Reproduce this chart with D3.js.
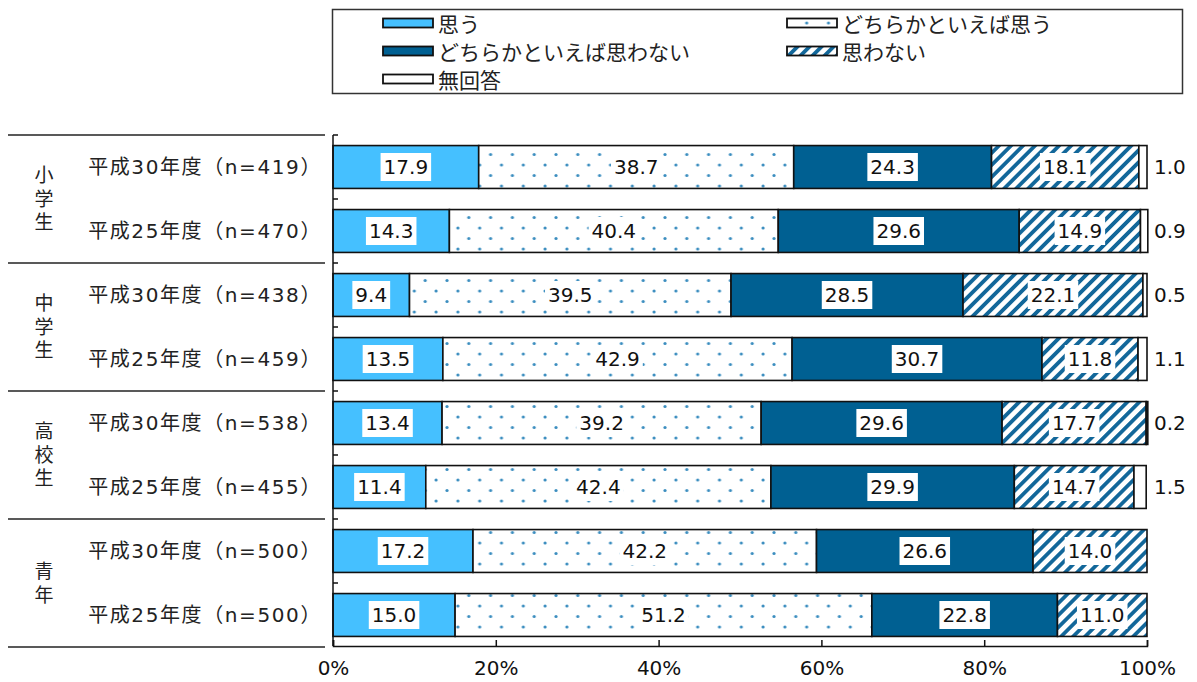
<!DOCTYPE html>
<html><head><meta charset="utf-8">
<script src="https://cdn.jsdelivr.net/npm/d3@7"></script>
<style>body{margin:0;background:#fff}svg{display:block}</style>
</head><body><svg id="c" width="1197" height="682"></svg>
<script>
const groups = ["小学生","中学生","高校生","青年"];
const rowGroup = [0,0,1,1,2,2,3,3];
const rowLabels = ["平成30年度（n=419）","平成25年度（n=470）","平成30年度（n=438）","平成25年度（n=459）","平成30年度（n=538）","平成25年度（n=455）","平成30年度（n=500）","平成25年度（n=500）"];
const seriesNames = ["思う","どちらかといえば思う","どちらかといえば思わない","思わない","無回答"];
const vOmou = [17.9,14.3,9.4,13.5,13.4,11.4,17.2,15.0];
const vDochiraOmou = [38.7,40.4,39.5,42.9,39.2,42.4,42.2,51.2];
const vDochiraOmowanai = [24.3,29.6,28.5,30.7,29.6,29.9,26.6,22.8];
const vOmowanai = [18.1,14.9,22.1,11.8,17.7,14.7,14.0,11.0];
const vMukaitou = [1.0,0.9,0.5,1.1,0.2,1.5,null,null];
const xTicks = [0,20,40,60,80,100];

const series = [vOmou,vDochiraOmou,vDochiraOmowanai,vOmowanai,vMukaitou];
const FONT = "'DejaVu Sans','Noto Sans CJK JP',sans-serif";
const CJK = "'Noto Sans CJK JP',sans-serif";
const svg = d3.select("#c");
const defs = svg.append("defs");

// patterns
function dotPattern(id, oy){
  const p = defs.append("pattern").attr("id",id).attr("patternUnits","userSpaceOnUse")
    .attr("width",21.8).attr("height",21).attr("x",333).attr("y",oy);
  p.append("rect").attr("width",21.8).attr("height",21).attr("fill","#fff");
  p.append("circle").attr("cx",5).attr("cy",7.5).attr("r",1.6).attr("fill","#3a8dbf");
  p.append("circle").attr("cx",15.9).attr("cy",18).attr("r",1.6).attr("fill","#3a8dbf");
}
dotPattern("dots",0);
dotPattern("dotsLeg",5);
const stripes = defs.append("pattern").attr("id","stripes").attr("patternUnits","userSpaceOnUse")
  .attr("width",8.5).attr("height",8.5).attr("patternTransform","rotate(45)");
stripes.append("rect").attr("width",8.5).attr("height",8.5).attr("fill","#fff");
stripes.append("rect").attr("width",3.8).attr("height",8.5).attr("fill","#12679a");

const fills = ["#45c0ff","url(#dots)","#006092","url(#stripes)","#ffffff"];
const legFills = ["#45c0ff","url(#dotsLeg)","#006092","url(#stripes)","#ffffff"];

const x = d3.scaleLinear().domain([0,100]).range([333,1147]);
const y = d3.scaleBand().domain(d3.range(rowLabels.length)).range([135,647]).paddingInner(0.33).paddingOuter(0.165);

// stacked data
const rows = rowLabels.map((lab,i)=>{
  let acc=0;
  return series.map((s,k)=>{const v=s[i]||0; const seg={row:i,k,v,raw:s[i],x0:acc,x1:acc+v}; acc+=v; return seg;});
});

// left separators
const sepY = d3.range(groups.length+1).map(g=>y.range()[0]+g*2*y.step());
svg.selectAll("line.sep").data(sepY).join("line").attr("class","sep")
  .attr("x1",8).attr("x2",325).attr("y1",d=>d).attr("y2",d=>d).attr("stroke","#222").attr("stroke-width",1.5);

// group labels (vertical)
groups.forEach((g,gi)=>{
  const cy = (sepY[gi]+sepY[gi+1])/2;
  svg.append("text").attr("x",44).attr("y",cy+2)
    .attr("writing-mode","vertical-rl").attr("text-anchor","middle")
    .attr("letter-spacing",4.5)
    .attr("font-family",CJK).attr("font-size",19).attr("fill","#222").text(g);
});

// row labels
svg.selectAll("text.rl").data(rowLabels).join("text").attr("class","rl")
  .attr("x",322).attr("y",(d,i)=>y(i)+y.bandwidth()/2)
  .attr("text-anchor","end").attr("dominant-baseline","central")
  .attr("letter-spacing",1.6)
  .attr("font-family",FONT).attr("font-size",20).attr("fill","#222").text(d=>d);

// bars
const gBars = svg.append("g");
rows.forEach(r=>{
  gBars.selectAll(null).data(r.filter(s=>s.v>0)).join("rect")
    .attr("x",d=>x(d.x0)).attr("width",d=>x(d.x1)-x(d.x0))
    .attr("y",d=>y(d.row)).attr("height",y.bandwidth())
    .attr("fill",d=>fills[d.k]).attr("stroke","#111").attr("stroke-width",1.6);
});

// value labels
const gLab = svg.append("g");
rows.forEach(r=>{
  r.forEach(d=>{
    if(d.raw==null) return;
    const cy = y(d.row)+y.bandwidth()/2;
    if(d.k<4){
      const cx = (x(d.x0)+x(d.x1))/2;
      const t = gLab.append("text").attr("x",cx).attr("y",cy).attr("text-anchor","middle")
        .attr("dominant-baseline","central").attr("font-family",FONT).attr("font-size",20)
        .attr("fill","#111").text(d.raw.toFixed(1));
      const bb = t.node().getBBox();
      gLab.insert("rect",()=>t.node()).attr("x",bb.x-3).attr("width",bb.width+6)
        .attr("y",cy-14).attr("height",28).attr("fill","#fff");
    } else {
      gLab.append("text").attr("x",1154).attr("y",cy).attr("dominant-baseline","central")
        .attr("font-family",FONT).attr("font-size",20).attr("fill","#111").text(d.raw.toFixed(1));
    }
  });
});

// left axis
const ax0 = x(0), axB = 646;
svg.append("line").attr("x1",ax0).attr("x2",ax0).attr("y1",y.range()[0]).attr("y2",axB).attr("stroke","#111").attr("stroke-width",1.5);
const bnd = d3.range(rowLabels.length).map(i=>y.range()[0]+i*y.step());
svg.selectAll("line.lt").data(bnd).join("line").attr("class","lt")
  .attr("x1",ax0).attr("x2",ax0+5).attr("y1",d=>d).attr("y2",d=>d).attr("stroke","#111").attr("stroke-width",1.5);

// bottom axis
const xa = svg.append("g").attr("transform",`translate(0,${axB})`)
  .call(d3.axisBottom(x).tickValues(xTicks).tickSize(-6).tickSizeOuter(-6).tickFormat(d=>d+"%"));
xa.select(".domain").attr("stroke","#111").attr("stroke-width",1.5);
xa.selectAll(".tick line").attr("stroke","#111").attr("stroke-width",1.5);
xa.selectAll(".tick text").attr("y",15).attr("font-family",FONT).attr("font-size",20).attr("fill","#111");

// legend
svg.append("rect").attr("x",332.5).attr("y",9.5).attr("width",850).attr("height",84)
  .attr("fill","none").attr("stroke","#333").attr("stroke-width",1.5);
const legPos = [[383,23],[787,23],[383,51],[787,51],[383,79]];
seriesNames.forEach((n,k)=>{
  const [lx,ly] = legPos[k];
  svg.append("rect").attr("x",lx).attr("y",ly-4.5).attr("width",50).attr("height",9)
    .attr("fill",legFills[k]).attr("stroke","#111").attr("stroke-width",1.8);
  svg.append("text").attr("x",lx+55).attr("y",ly).attr("dominant-baseline","central")
    .attr("font-family",CJK).attr("font-size",21).attr("fill","#222").text(n);
});
</script></body></html>
